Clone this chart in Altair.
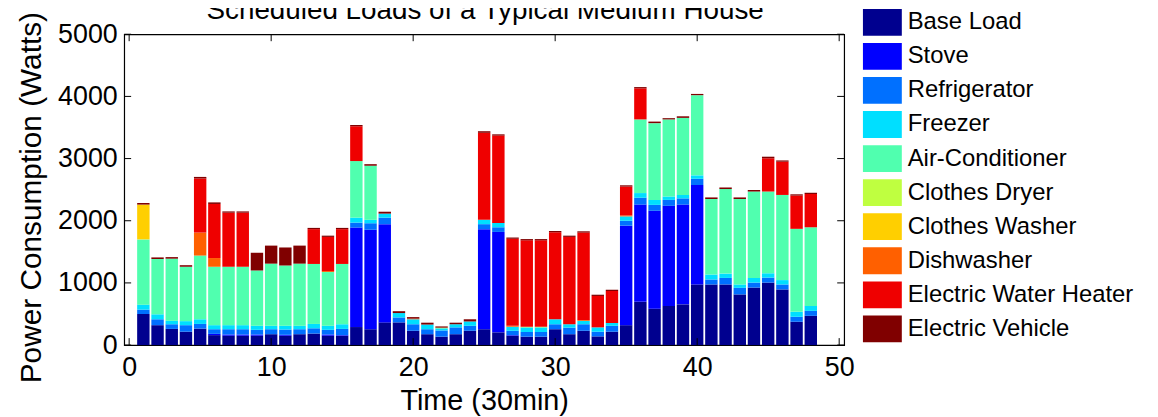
import altair as alt
import pandas as pd

TITLE = "Scheduled Loads of a Typical Medium House"
slots = list(range(1, 49))
appliances = ["Base Load", "Stove", "Refrigerator", "Freezer", "Air-Conditioner",
              "Clothes Dryer", "Clothes Washer", "Dishwasher",
              "Electric Water Heater", "Electric Vehicle"]
colors = ["#00008F", "#0000FF", "#0070FF", "#00DFFF", "#50FFAF",
          "#BFFF40", "#FFCF00", "#FF6000", "#EF0000", "#800000"]

base_load = [500, 320, 260, 215, 265, 160, 150, 150, 150, 175, 150, 175, 185, 150, 150, 290,
             255, 365, 365, 230, 175, 135, 175, 230, 255, 205, 150, 135, 135, 255, 175, 230,
             140, 215, 320, 695, 585, 630, 655, 975, 975, 975, 815, 925, 1005, 895, 375, 470]
stove = [0, 0, 0, 0, 0, 20, 20, 20, 20, 0, 15, 0, 0, 20, 10, 1600,
         1600, 1580, 0, 0, 0, 0, 0, 0, 1610, 1615, 10, 0, 0, 0, 0, 0,
         0, 0, 1600, 1565, 1575, 1610, 1605, 1600, 0, 0, 0, 0, 0, 0, 0, 0]
refrigerator = [70, 95, 75, 105, 75, 75, 85, 85, 75, 80, 85, 80, 85, 75, 100, 80,
                105, 105, 80, 105, 80, 100, 110, 80, 80, 75, 70, 75, 75, 80, 105, 105,
                75, 95, 80, 110, 95, 95, 100, 100, 80, 105, 105, 80, 80, 80, 80, 80]
freezer = [80, 80, 55, 65, 75, 65, 65, 65, 65, 55, 60, 55, 70, 65, 75, 80,
           55, 65, 70, 80, 75, 35, 50, 70, 70, 70, 65, 75, 75, 80, 55, 55,
           70, 45, 70, 75, 80, 55, 55, 55, 80, 70, 55, 75, 70, 70, 80, 80]
air_conditioner = [1050, 890, 1000, 875, 1025, 940, 940, 940, 890, 1000, 970, 1000, 965, 865, 970, 910,
                   870, 0, 0, 0, 0, 0, 0, 0, 0, 0, 0, 0, 0, 0, 0, 0,
                   0, 0, 0, 1185, 1235, 1240, 1240, 1290, 1215, 1360, 1375, 1390, 1315, 1370, 1335, 1265]
clothes_dryer = [0, 0, 0, 0, 0, 0, 0, 0, 0, 0, 0, 0, 0, 0, 0, 0,
                 0, 0, 0, 0, 0, 10, 0, 0, 0, 0, 0, 10, 10, 0, 0, 0,
                 0, 0, 0, 0, 0, 0, 0, 0, 0, 0, 0, 0, 0, 0, 0, 0]
clothes_washer = [560, 0, 0, 0, 0, 0, 0, 0, 0, 0, 0, 0, 0, 0, 0, 0,
                  0, 0, 0, 0, 0, 0, 0, 0, 0, 0, 0, 0, 0, 0, 0, 0,
                  0, 0, 0, 0, 0, 0, 0, 0, 0, 0, 0, 0, 0, 0, 0, 0]
dishwasher = [0, 0, 0, 0, 370, 140, 0, 0, 0, 0, 0, 0, 0, 15, 0, 0,
              0, 0, 0, 10, 0, 0, 0, 0, 0, 0, 15, 0, 0, 0, 0, 15,
              0, 0, 15, 0, 0, 0, 0, 0, 0, 0, 0, 0, 0, 0, 0, 0]
water_heater = [0, 0, 0, 0, 870, 870, 870, 870, 0, 0, 0, 0, 560, 550, 560, 560,
                0, 0, 0, 0, 0, 0, 0, 0, 1400, 1405, 1400, 1390, 1390, 1400, 1405, 1405,
                505, 515, 465, 500, 0, 0, 0, 0, 0, 0, 0, 0, 535, 535, 535, 535]
electric_vehicle = [25, 25, 25, 25, 25, 25, 20, 20, 285, 290, 290, 290, 20, 20, 20, 20,
                    25, 30, 30, 25, 30, 20, 25, 35, 25, 20, 20, 20, 20, 20, 20, 20,
                    20, 20, 20, 20, 25, 20, 25, 20, 25, 25, 25, 25, 25, 20, 20, 20]

series = [base_load, stove, refrigerator, freezer, air_conditioner, clothes_dryer,
          clothes_washer, dishwasher, water_heater, electric_vehicle]

x_ticks = [0, 10, 20, 30, 40, 50]
y_ticks = [0, 1000, 2000, 3000, 4000, 5000]

rows = []
for k, (name, vals) in enumerate(zip(appliances, series)):
    for t, v in zip(slots, vals):
        rows.append({"slot": t, "appliance": name, "idx": k, "watts": v})
df = pd.DataFrame(rows)

W, H = 725, 313
FONT = "Liberation Sans"
TL = 7

xscale = alt.Scale(domain=[0, 50], nice=False, zero=False)
yscale = alt.Scale(domain=[0, 5000], nice=False)

x_axis = alt.Axis(values=x_ticks, format="d", title="Time (30min)", grid=False, ticks=False,
                  domain=False, labelFontSize=27, labelFont=FONT, labelColor="black",
                  labelPadding=10, labelFlush=False, labelOverlap=False,
                  titleFontSize=29, titleFont=FONT, titleFontWeight="normal",
                  titleColor="black", titleBaseline="alphabetic", titleY=65,
                  titleX=W / 2)
y_axis = alt.Axis(values=y_ticks, format="d", title="Power Consumption (Watts)", grid=False,
                  ticks=False, domain=False, labelFontSize=27, labelFont=FONT,
                  labelColor="black", labelPadding=7, labelFlush=False,
                  labelOverlap=False, titleFontSize=30, titleFont=FONT,
                  titleFontWeight="normal", titleColor="black",
                  titleBaseline="alphabetic", titleX=-84, titleY=164,
                  titleAngle=270, titleAlign="center")

bars = alt.Chart(df).mark_bar(size=12.5).encode(
    x=alt.X("slot:Q", scale=xscale, axis=x_axis),
    y=alt.Y("watts:Q", scale=yscale, stack="zero", axis=y_axis),
    color=alt.Color("appliance:N", scale=alt.Scale(domain=appliances, range=colors),
                    legend=alt.Legend(orient="none", legendX=750, legendY=-25.5, title=None,
                                      labelFontSize=24, labelFont=FONT, labelColor="black",
                                      symbolType="M-1.45,-1H1.45V1H-1.45Z", symbolSize=729,
                                      symbolStrokeWidth=0, symbolOpacity=1, labelOffset=12,
                                      rowPadding=7.3, padding=0, labelLimit=400,
                                      direction="vertical")),
    order=alt.Order("idx:Q", sort="ascending"),
)

xt = pd.DataFrame({"slot": x_ticks})
yt = pd.DataFrame({"watts": y_ticks})

x_bot = alt.Chart(xt).mark_rule(color="black", strokeWidth=1).encode(
    x=alt.X("slot:Q", scale=xscale, axis=x_axis), y=alt.value(H), y2=alt.value(H - TL))
x_top = alt.Chart(xt).mark_rule(color="black", strokeWidth=1).encode(
    x=alt.X("slot:Q", scale=xscale, axis=x_axis), y=alt.value(0), y2=alt.value(TL))
y_left = alt.Chart(yt).mark_rule(color="black", strokeWidth=1).encode(
    y=alt.Y("watts:Q", scale=yscale, axis=y_axis), x=alt.value(0), x2=alt.value(TL))
y_right = alt.Chart(yt).mark_rule(color="black", strokeWidth=1).encode(
    y=alt.Y("watts:Q", scale=yscale, axis=y_axis), x=alt.value(W - TL), x2=alt.value(W))

title = alt.Chart(pd.DataFrame({"t": [TITLE]})).mark_text(
    font=FONT, fontSize=28, color="black", align="center", baseline="alphabetic"
).encode(text="t:N", x=alt.value(W / 2 + 1), y=alt.value(-15))

chart = alt.layer(bars, x_bot, x_top, y_left, y_right, title).properties(
    width=W, height=H,
    autosize=alt.AutoSizeParams(type="none"),
    padding={"left": 117, "top": 25, "right": 308, "bottom": 71},
).configure(font=FONT, background="white").configure_view(stroke="black", strokeWidth=1.2)

chart.save("out.html", embed_options={"renderer": "svg", "actions": False})
